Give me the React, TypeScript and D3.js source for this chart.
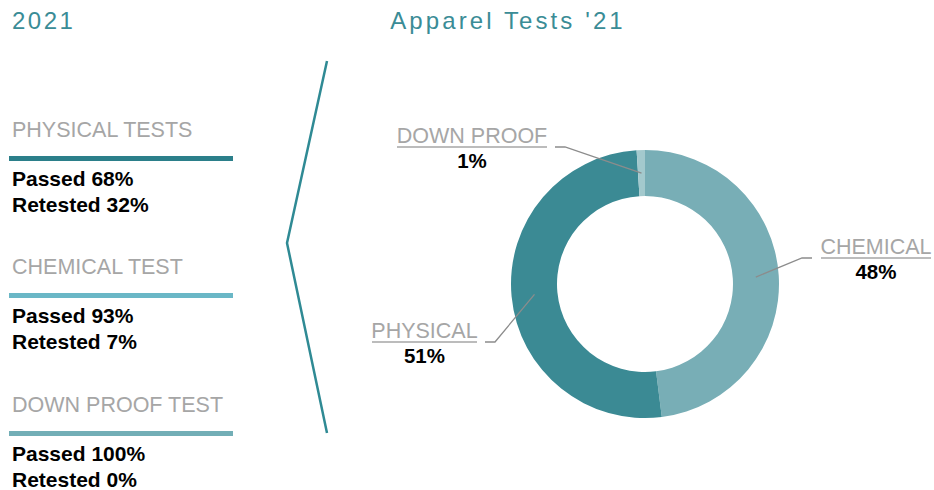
import React from "react";
import { pie, arc } from "d3";

const sliceNames = ["CHEMICAL", "PHYSICAL", "DOWN PROOF"];
const sliceValues = [48, 51, 1];
const sliceColors = ["#78aeb6", "#3b8a94", "#a3c9cd"];

const testNames = ["PHYSICAL TESTS", "CHEMICAL TEST", "DOWN PROOF TEST"];
const passedPct = [68, 93, 100];
const retestedPct = [32, 7, 0];
const testColors = ["#2b7f8a", "#6ab7c6", "#72aeb6"];

const W = 934;
const H = 490;
const cx = 645;
const cy = 284;
const outerR = 134;
const innerR = 88;
const font = "'Liberation Sans', Arial, sans-serif";

// label layout per slice: elbow point and label side
const labelLayout = [
  { elbowX: 802, elbowY: 258, side: 1, width: 110 },
  { elbowX: 495, elbowY: 342, side: -1, width: 105 },
  { elbowX: 565, elbowY: 147, side: -1, width: 150 },
];

export default function App() {
  const arcs = pie<number>().value((d) => d).sort(null)(sliceValues);
  const total = sliceValues.reduce((a, b) => a + b, 0);
  const arcGen = arc<any>().innerRadius(innerR).outerRadius(outerR);
  const labelArc = arc<any>().innerRadius(111).outerRadius(111);

  const sectionTop = [137, 274, 412];

  return (
    <svg width={W} height={H} style={{ position: "absolute", left: 0, top: 0 }} fontFamily={font}>
      <text x={12} y={29} fontSize={24} fill="#3a8c96" letterSpacing={2.5}>2021</text>
      <text x={508} y={29} fontSize={24} fill="#3a8c96" letterSpacing={3.1} textAnchor="middle">
        Apparel Tests '21
      </text>

      {testNames.map((name, i) => {
        const y = sectionTop[i];
        return (
          <g key={name}>
            <text x={12} y={y} fontSize={21.5} fill="#a6a6a6">{name}</text>
            <rect x={9} y={y + 19} width={224} height={5} fill={testColors[i]} />
            <text x={12} y={y + 49} fontSize={21} fontWeight="bold" fill="#000">
              Passed {passedPct[i]}%
            </text>
            <text x={12} y={y + 75} fontSize={21} fontWeight="bold" fill="#000">
              Retested {retestedPct[i]}%
            </text>
          </g>
        );
      })}

      <polyline points="327,61 287,243 327,433" fill="none" stroke="#2f8a94" strokeWidth={2.5} />

      <g transform={`translate(${cx},${cy})`}>
        {arcs.map((d, i) => (
          <path key={i} d={arcGen(d) || undefined} fill={sliceColors[i]} />
        ))}
      </g>

      {arcs.map((d, i) => {
        const [px, py] = labelArc.centroid(d);
        const L = labelLayout[i];
        const endX = L.elbowX + L.side * 10;
        const textX0 = L.side > 0 ? endX + 9 : endX - 8 - L.width;
        const textC = textX0 + L.width / 2;
        return (
          <g key={`lab-${i}`}>
            <polyline
              points={`${cx + px},${cy + py} ${L.elbowX},${L.elbowY} ${endX},${L.elbowY}`}
              fill="none"
              stroke="#8c8c8c"
              strokeWidth={1.3}
            />
            <text x={textC} y={L.elbowY - 4} fontSize={21.5} fill="#a6a6a6" textAnchor="middle">
              {sliceNames[i]}
            </text>
            <line x1={textX0} x2={textX0 + L.width} y1={L.elbowY} y2={L.elbowY} stroke="#a6a6a6" strokeWidth={1.5} />
            <text x={textC} y={L.elbowY + 21} fontSize={20.5} fontWeight="bold" fill="#000" textAnchor="middle">
              {Math.round((d.data / total) * 100)}%
            </text>
          </g>
        );
      })}
    </svg>
  );
}
